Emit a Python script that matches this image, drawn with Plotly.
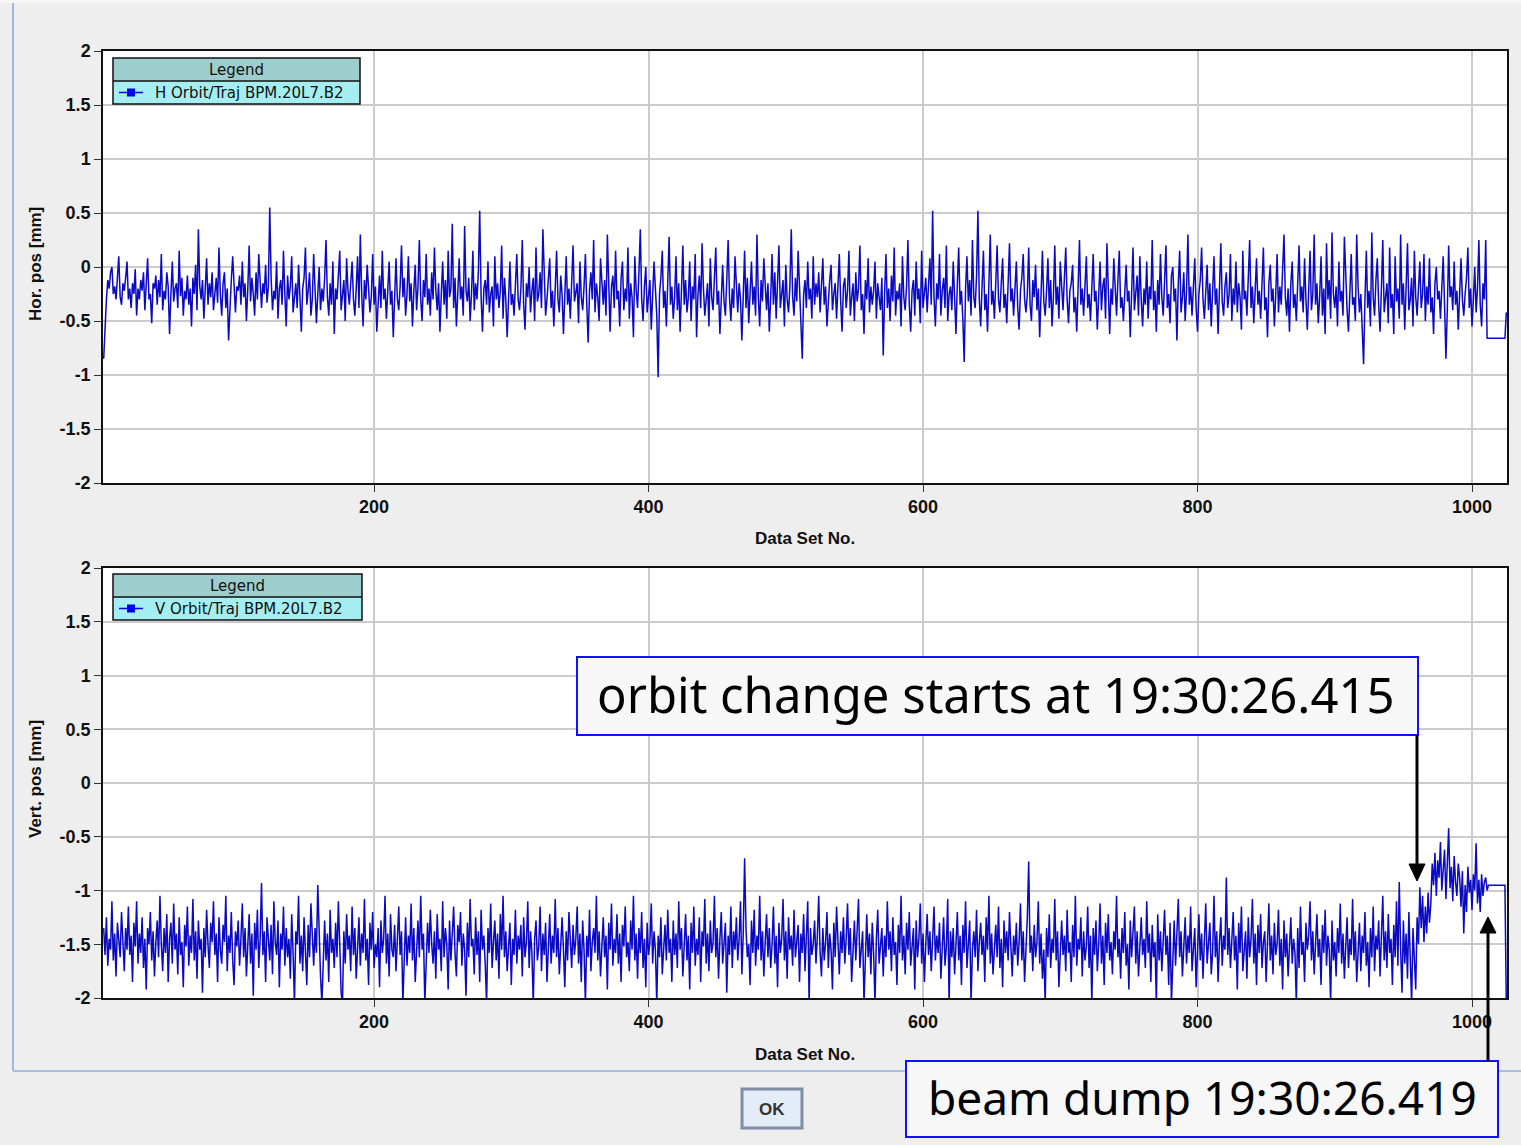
import plotly.graph_objects as go

W, H = 1521, 1145

# ---------------- data ----------------
h_pos = [
    -.85,-.55,-.30,-.12,-.20,-.05,.00,-.25,-.18,-.30,-.10,.10,-.28,-.35,-.15,-.22,-.10,.05,-.30,-.20,
    -.38,-.15,-.25,-.02,-.45,-.20,-.30,-.12,-.22,-.05,-.40,-.18,.08,-.30,-.25,-.52,-.15,-.20,-.08,-.35,
    -.12,-.28,.12,-.40,-.22,-.30,-.05,-.18,-.62,-.25,.05,-.32,-.20,-.15,-.38,.15,-.27,-.10,-.45,-.22,
    -.30,-.08,-.35,-.20,-.55,-.10,-.25,.02,-.40,.35,-.18,-.30,-.12,-.48,-.22,.08,-.35,-.15,-.28,-.05,
    -.40,-.20,-.10,-.33,.18,-.25,-.45,-.15,-.05,-.38,-.20,-.68,-.30,-.12,.10,-.25,-.42,-.18,-.22,-.08,
    -.35,.05,-.28,-.15,-.50,-.20,.20,-.32,-.10,-.25,-.45,-.05,-.30,.12,-.22,-.38,-.15,-.25,.02,-.33,
    -.18,.55,-.10,-.40,-.22,-.30,.05,-.48,-.20,-.12,-.35,.15,-.25,-.55,-.08,-.30,-.18,.10,-.42,-.25,
    -.15,-.38,.02,-.28,-.60,-.20,-.10,.18,-.35,-.22,-.05,-.45,-.30,.12,-.18,-.52,-.25,.00,-.40,-.20,
    -.32,-.10,.25,-.28,-.45,-.15,-.35,.05,-.62,-.20,-.30,-.08,.15,-.40,-.25,-.12,-.50,.08,-.22,-.35,
    -.15,.05,-.30,-.45,-.20,.10,-.38,.30,-.25,-.55,-.12,-.30,.02,-.20,-.42,-.28,.12,-.35,-.18,-.60,
    -.25,-.08,-.38,.15,-.30,-.20,-.48,-.12,.05,-.35,-.22,-.65,-.15,.08,-.30,-.40,-.18,.20,-.28,-.10,
    -.45,-.25,.10,-.32,-.15,-.55,-.22,.02,-.40,-.18,.25,-.30,-.50,-.12,-.28,.12,-.35,-.20,-.45,-.05,
    -.30,.18,-.22,-.40,-.15,-.60,-.25,.05,-.35,-.12,-.48,.15,-.28,-.20,.40,-.38,-.10,-.55,-.25,.08,
    -.30,-.18,-.45,.38,-.22,-.32,-.10,-.50,-.25,.15,-.40,-.15,-.30,-.05,.52,-.28,-.60,-.20,-.12,-.35,
    .05,-.42,-.25,-.18,-.55,.10,-.30,-.15,-.38,-.22,.20,-.48,-.10,-.30,-.65,-.18,.05,-.35,-.25,-.45,
    -.12,.12,-.30,-.40,-.20,.25,-.35,-.58,-.15,-.28,.00,-.42,-.22,-.10,-.50,.18,-.32,-.25,-.05,-.38,
    .35,-.20,-.45,-.30,-.12,.08,-.38,-.22,-.55,-.15,.15,-.30,-.42,-.08,-.25,-.62,-.18,.10,-.35,-.20,
    -.48,-.10,.20,-.32,-.25,-.15,-.52,.05,-.28,-.40,-.18,.12,-.35,-.70,-.22,-.05,-.30,.25,-.42,-.15,
    -.28,-.50,.08,-.20,-.35,-.12,-.45,.30,-.25,-.60,-.18,-.08,-.38,.15,-.30,-.22,-.55,-.10,.05,-.40,
    -.20,-.32,.18,-.48,-.15,-.28,-.65,.10,-.22,-.38,-.05,.35,-.30,-.50,-.18,.00,-.42,-.25,-.12,-.58,
    -.30,.05,-.20,-.45,-1.02,-.25,-.10,.15,-.38,-.22,-.55,-.05,.28,-.35,-.18,-.48,-.28,.10,-.40,-.15,
    -.60,-.22,.20,-.35,-.12,-.42,-.28,.05,-.50,-.18,-.30,.12,-.65,-.25,-.08,-.38,.22,-.20,-.45,-.30,
    -.15,-.55,.08,-.28,-.40,-.10,.18,-.35,-.22,-.62,-.18,.02,-.32,-.45,-.12,.25,-.28,-.50,-.20,-.38,
    .10,-.25,-.42,-.15,-.30,-.68,-.20,.15,-.38,-.10,-.52,-.25,.05,-.35,-.18,-.45,.30,-.28,-.55,-.12,
    -.32,.08,-.22,-.40,-.15,-.60,-.28,.12,-.35,-.05,-.48,-.20,.20,-.38,-.25,-.12,-.55,.02,-.30,-.42,
    -.18,.35,-.28,-.45,-.10,-.32,.15,-.22,-.50,-.85,-.25,-.12,-.38,.05,-.30,-.20,-.48,.10,-.35,-.15,
    -.28,-.05,-.42,-.22,.08,-.35,-.18,-.55,-.30,-.12,.02,-.40,-.25,-.15,-.48,-.20,.12,-.32,-.60,-.18,
    -.10,-.38,-.22,.15,-.45,-.28,-.15,-.50,-.05,-.32,-.20,.20,-.40,-.25,-.62,-.12,-.30,.08,-.42,-.18,
    -.35,-.22,.05,-.48,-.15,-.28,-.40,-.10,-.82,-.25,.12,-.38,-.20,-.50,-.08,-.32,.18,-.45,-.22,-.30,
    -.15,-.55,.10,-.28,-.40,-.18,.25,-.35,-.60,-.22,-.12,-.45,.05,-.30,-.20,-.52,.15,-.38,-.25,-.10,
    -.42,-.20,.08,-.35,.52,-.28,-.55,-.15,-.30,.12,-.45,-.22,-.10,-.38,.20,-.50,-.25,-.18,-.40,.05,
    -.30,-.62,-.15,.18,-.35,-.22,-.48,-.88,-.20,.10,-.32,-.12,-.45,.25,-.28,-.38,-.08,.52,-.30,-.55,
    -.18,.15,-.40,-.25,-.60,-.12,.30,-.35,-.22,-.48,-.05,.20,-.30,-.42,-.15,.08,-.38,-.25,-.52,-.10,
    .22,-.32,-.20,-.45,-.15,.05,-.38,-.58,-.22,-.10,.12,-.30,-.42,-.25,.18,-.35,-.50,-.12,-.28,.02,
    -.40,-.20,-.65,-.15,.15,-.32,-.45,-.22,.08,-.38,-.12,-.55,-.28,.20,-.35,-.18,-.48,.05,-.25,-.40,
    -.10,.18,-.30,-.52,-.22,-.15,.02,-.42,-.28,-.60,-.18,.25,-.35,-.20,-.45,-.08,.10,-.38,-.25,-.50,
    -.15,.12,-.32,-.22,-.58,-.28,.05,-.40,-.18,-.10,-.48,.22,-.30,-.62,-.20,-.35,.08,-.25,-.45,-.12,
    .15,-.38,-.28,-.50,-.15,.02,-.32,-.22,-.65,-.12,.18,-.40,-.25,-.08,-.45,.10,-.30,-.55,-.20,-.35,
    .05,-.48,-.18,-.30,.25,-.40,-.22,-.60,-.12,-.35,.12,-.28,-.45,-.15,.20,-.38,-.25,-.52,-.08,.00,
    -.32,-.20,-.68,-.15,.15,-.42,-.28,-.05,-.50,-.22,.30,-.35,-.18,-.45,-.10,.08,-.38,-.60,-.25,-.12,
    .18,-.30,-.48,-.22,.02,-.40,-.15,-.55,-.28,.10,-.35,-.20,-.62,-.12,.22,-.32,-.45,-.18,-.05,-.38,
    -.25,.12,-.50,-.20,-.35,.05,-.42,-.15,-.28,-.58,.15,-.30,-.22,-.45,-.10,.25,-.38,-.18,-.52,-.28,
    .08,-.35,-.22,-.48,-.12,.18,-.40,-.28,-.65,-.15,.02,-.32,-.20,-.55,-.25,.12,-.42,-.18,-.35,-.08,
    .30,-.28,-.45,-.20,-.60,-.15,.05,-.38,-.25,-.50,-.10,.20,-.32,-.18,-.42,.08,-.30,-.58,-.22,.15,
    -.40,-.25,.30,-.35,-.15,-.52,-.28,.10,-.45,-.20,-.62,.22,-.30,-.12,-.48,.32,-.25,-.38,-.18,-.55,
    .05,-.32,-.22,-.45,.28,-.15,-.40,-.60,-.20,.12,-.35,-.28,-.50,.30,-.18,-.42,-.25,-.65,-.90,-.30,
    .15,-.38,-.22,-.55,.32,-.28,-.45,-.12,.08,-.35,-.60,-.20,.25,-.42,-.30,-.15,-.52,.18,-.38,-.25,
    -.62,.10,-.32,-.20,-.48,.30,-.35,-.15,-.58,-.25,.22,-.40,-.30,-.10,-.55,.15,-.28,-.45,-.20,.05,
    -.38,-.25,.12,-.50,-.18,-.35,.08,-.42,-.28,-.62,-.15,.00,-.30,-.22,-.48,-.12,.10,-.35,-.85,-.40,
    .20,-.28,-.18,-.40,.05,-.35,-.22,-.58,-.15,.08,-.30,-.45,-.25,-.10,.18,-.38,-.20,-.55,-.30,.00,
    -.42,-.20,.25,-.35,-.55,-.15,-.30,.25,-.66,-.66,-.66,-.66,-.66,-.66,-.66,-.66,-.66,-.66,-.66,-.66,
    -.66,-.66,-.42,
]

v_pos = [
    -1.35,-1.60,-1.25,-1.70,-1.45,-1.55,-1.10,-1.65,-1.40,-1.80,-1.30,-1.50,-1.62,-1.20,-1.48,-1.75,-1.35,-1.55,-1.15,-1.60,
    -1.42,-1.85,-1.30,-1.52,-1.10,-1.68,-1.40,-1.58,-1.25,-1.72,-1.45,-1.92,-1.35,-1.50,-1.20,-1.65,-1.38,-1.80,-1.48,-1.28,
    -1.62,-1.05,-1.50,-1.75,-1.35,-1.58,-1.22,-1.85,-1.45,-1.30,-1.68,-1.12,-1.55,-1.40,-1.78,-1.25,-1.60,-1.48,-1.90,-1.32,
    -1.52,-1.15,-1.70,-1.42,-1.58,-1.08,-1.65,-1.38,-1.82,-1.28,-1.55,-1.45,-1.95,-1.35,-1.62,-1.18,-1.50,-1.72,-1.30,-1.48,
    -1.10,-1.60,-1.40,-1.85,-1.25,-1.55,-1.68,-1.32,-1.48,-1.05,-1.75,-1.42,-1.58,-1.20,-1.65,-1.88,-1.38,-1.52,-1.28,-1.70,
    -1.45,-1.12,-1.62,-1.35,-1.80,-1.50,-1.22,-1.68,-1.40,-1.98,-1.30,-1.55,-1.18,-1.72,-1.45,-0.93,-1.60,-1.38,-1.85,-1.25,
    -1.52,-1.65,-1.32,-1.78,-1.10,-1.48,-1.60,-1.28,-1.90,-1.40,-1.55,-1.15,-1.70,-1.35,-1.62,-1.45,-1.82,-1.22,-1.58,-2.05,
    -1.38,-1.50,-1.05,-1.68,-1.42,-1.75,-1.25,-1.55,-1.88,-1.32,-1.62,-1.12,-1.48,-1.70,-1.35,-1.58,-0.95,-1.45,-1.80,-2.05,
    -1.52,-1.28,-1.65,-1.40,-1.85,-1.18,-1.58,-1.45,-1.72,-1.30,-1.62,-1.10,-1.50,-1.95,-2.05,-1.38,-1.68,-1.22,-1.55,-1.42,
    -1.75,-1.15,-1.60,-1.35,-1.82,-1.48,-1.25,-1.70,-1.40,-1.58,-1.08,-1.65,-1.45,-1.88,-1.30,-1.55,-1.20,-1.72,-1.50,-1.62,
    -1.35,-1.90,-1.28,-1.58,-1.45,-1.05,-1.68,-1.40,-1.80,-1.22,-1.55,-1.62,-1.32,-1.75,-1.48,-1.15,-1.60,-1.38,-2.05,-1.52,
    -1.25,-1.70,-1.42,-1.58,-1.12,-1.65,-1.35,-1.85,-1.48,-1.28,-1.62,-1.05,-1.55,-1.40,-2.05,-1.72,-1.30,-1.58,-1.18,-1.50,
    -1.68,-1.38,-1.82,-1.22,-1.55,-1.45,-1.75,-1.10,-1.62,-1.35,-1.50,-1.92,-1.28,-1.65,-1.42,-1.15,-1.58,-1.80,-1.32,-1.48,
    -1.20,-1.70,-1.40,-1.55,-1.98,-1.30,-1.62,-1.08,-1.52,-1.45,-1.78,-1.25,-1.60,-1.38,-1.85,-1.18,-1.55,-1.42,-1.68,-2.05,
    -1.35,-1.58,-1.12,-1.72,-1.48,-1.28,-1.65,-1.40,-1.82,-1.22,-1.55,-1.05,-1.62,-1.38,-1.75,-1.50,-1.30,-1.88,-1.45,-1.60,
    -1.18,-1.68,-1.42,-1.55,-1.32,-1.80,-1.25,-1.62,-1.48,-1.10,-1.72,-1.38,-1.58,-2.05,-1.45,-1.28,-1.65,-1.52,-1.15,-1.75,
    -1.40,-1.60,-1.30,-1.85,-1.50,-1.22,-1.68,-1.42,-1.58,-1.08,-1.62,-1.35,-1.78,-1.48,-1.25,-1.55,-1.90,-1.38,-1.65,-1.20,
    -1.52,-1.72,-1.32,-1.60,-1.45,-1.15,-1.68,-1.40,-1.85,-1.28,-1.55,-2.05,-1.42,-1.62,-1.18,-1.75,-1.48,-1.35,-1.58,-1.05,
    -1.65,-1.38,-1.80,-1.50,-1.25,-1.62,-1.42,-1.92,-1.30,-1.55,-1.12,-1.70,-1.45,-1.58,-1.22,-1.68,-1.40,-1.85,-1.32,-1.52,
    -1.15,-1.62,-1.48,-1.75,-1.28,-1.55,-1.05,-1.65,-1.40,-1.82,-1.35,-1.58,-1.20,-1.72,-1.45,-1.90,-1.30,-1.60,-1.48,-1.12,
    -1.68,-1.38,-1.55,-2.05,-1.42,-1.62,-1.25,-1.78,-1.50,-1.32,-1.65,-1.18,-1.58,-1.45,-1.85,-1.28,-1.60,-1.40,-1.72,-1.10,
    -1.55,-1.35,-1.80,-1.48,-1.22,-1.65,-1.42,-1.92,-1.30,-1.58,-1.15,-1.70,-1.45,-1.60,-1.25,-1.85,-1.38,-1.52,-1.08,-1.68,
    -1.40,-1.75,-1.28,-1.58,-1.48,-1.05,-1.62,-1.35,-1.82,-1.45,-1.20,-1.68,-1.52,-1.30,-1.95,-1.42,-1.60,-1.15,-1.72,-1.38,
    -1.55,-1.25,-1.65,-1.45,-1.10,-1.78,-1.40,-0.70,-1.35,-1.62,-1.50,-1.88,-1.28,-1.58,-1.18,-1.70,-1.42,-1.55,-1.05,-1.65,
    -1.38,-1.80,-1.48,-1.22,-1.62,-1.35,-1.72,-1.50,-1.15,-1.68,-1.42,-1.90,-1.30,-1.58,-1.45,-1.08,-1.65,-1.38,-1.82,-1.25,
    -1.55,-1.42,-1.70,-1.18,-1.62,-1.48,-1.32,-1.85,-1.40,-1.58,-1.22,-1.75,-1.45,-1.10,-2.05,-1.35,-1.60,-1.50,-1.28,-1.68,
    -1.42,-1.05,-1.58,-1.80,-1.35,-1.65,-1.48,-1.20,-1.72,-1.40,-1.55,-1.92,-1.30,-1.62,-1.15,-1.50,-1.78,-1.38,-1.58,-1.25,
    -1.68,-1.45,-1.12,-1.60,-1.35,-1.85,-1.50,-1.28,-1.65,-1.42,-1.08,-1.72,-1.55,-1.38,-2.05,-1.48,-1.22,-1.62,-1.40,-1.78,
    -1.30,-1.58,-2.05,-1.45,-1.18,-1.68,-1.52,-1.35,-1.80,-1.42,-1.62,-1.10,-1.55,-1.38,-1.75,-1.25,-1.60,-1.48,-1.88,-1.32,
    -1.58,-1.05,-1.65,-1.42,-1.78,-1.30,-1.55,-1.20,-1.70,-1.48,-1.35,-1.92,-1.28,-1.62,-1.45,-1.12,-1.68,-1.40,-1.85,-1.50,
    -1.22,-1.60,-1.38,-1.75,-1.48,-1.15,-1.65,-1.42,-1.58,-1.30,-1.82,-1.45,-1.25,-1.70,-1.52,-1.08,-2.05,-1.38,-1.62,-1.35,
    -1.78,-1.50,-1.20,-1.65,-1.42,-1.88,-1.32,-1.58,-1.10,-1.72,-1.45,-1.28,-2.05,-1.55,-1.38,-1.62,-1.18,-1.75,-1.48,-1.30,
    -1.60,-1.42,-1.85,-1.25,-1.55,-1.05,-1.68,-1.40,-1.78,-1.50,-1.32,-1.62,-1.15,-1.72,-1.45,-1.90,-1.28,-1.58,-1.38,-1.65,
    -1.20,-1.52,-1.80,-1.42,-1.60,-1.30,-1.70,-1.48,-1.12,-1.65,-1.38,-1.85,-1.55,-1.25,-0.73,-1.58,-1.42,-1.75,-1.32,-1.62,
    -1.48,-1.10,-1.68,-1.40,-1.82,-1.55,-2.05,-1.35,-1.62,-1.22,-1.72,-1.45,-1.58,-1.08,-1.65,-1.38,-1.90,-1.50,-1.28,-1.60,
    -1.42,-1.75,-1.18,-1.58,-1.48,-1.85,-1.32,-1.62,-1.05,-1.70,-1.45,-1.55,-1.25,-1.80,-1.38,-1.65,-1.52,-1.15,-1.72,-1.42,
    -2.05,-1.35,-1.60,-1.28,-1.75,-1.50,-1.12,-1.68,-1.42,-1.88,-1.30,-1.58,-1.22,-1.65,-1.48,-1.78,-1.38,-1.55,-1.05,-1.62,
    -1.45,-1.82,-1.35,-1.58,-1.20,-1.70,-1.50,-1.92,-1.28,-1.62,-1.42,-1.15,-1.68,-1.38,-1.80,-1.52,-1.25,-1.60,-1.45,-1.72,
    -1.10,-1.58,-1.40,-1.85,-1.32,-1.62,-1.48,-2.05,-1.22,-1.65,-1.38,-1.75,-1.52,-1.18,-1.60,-1.42,-1.88,-1.30,-2.05,-1.55,
    -1.28,-1.70,-1.45,-1.08,-1.62,-1.38,-1.80,-1.50,-1.25,-1.68,-1.42,-1.58,-1.15,-1.75,-1.48,-1.35,-1.90,-1.55,-1.22,-1.65,
    -1.40,-1.82,-1.52,-1.12,-1.68,-1.45,-1.30,-1.78,-1.58,-1.05,-1.62,-1.38,-1.85,-1.48,-1.25,-1.70,-1.42,-1.55,-0.88,-1.60,
    -1.35,-1.72,-1.48,-1.20,-1.65,-1.42,-1.92,-1.30,-1.58,-1.15,-1.75,-1.50,-1.38,-1.82,-1.25,-1.62,-1.45,-1.08,-1.68,-1.40,
    -1.88,-1.32,-1.58,-1.22,-1.72,-1.48,-1.38,-1.85,-1.55,-1.12,-1.65,-1.42,-1.78,-1.30,-1.60,-1.50,-1.18,-1.70,-1.45,-1.92,
    -1.28,-1.62,-1.40,-1.80,-1.52,-1.25,-1.68,-1.45,-1.58,-2.05,-1.35,-1.72,-1.15,-1.60,-1.48,-1.85,-1.30,-1.55,-1.42,-1.10,
    -1.65,-1.38,-1.78,-1.50,-1.22,-1.62,-1.45,-1.88,-1.32,-1.58,-1.18,-1.70,-1.42,-1.55,-2.05,-1.28,-1.65,-1.48,-1.80,-1.35,
    -1.58,-1.12,-1.68,-1.40,-1.82,-1.52,-1.25,-1.72,-1.45,-1.60,-1.08,-1.65,-1.38,-1.85,-1.50,-1.30,-1.75,-1.42,-1.58,-1.20,
    -1.70,-1.48,-1.90,-1.35,-1.62,-1.15,-1.75,-1.42,-1.55,-1.28,-1.80,-1.50,-1.05,-1.65,-1.38,-1.72,-1.22,-1.58,-1.45,-1.88,
    -1.32,-1.62,-1.10,-1.70,-0.92,-1.55,-1.95,-1.28,-1.68,-1.40,-1.82,-1.20,-1.58,-2.05,-1.35,-1.62,-1.92,-1.25,-1.50,-0.97,
    -1.35,-1.05,-1.48,-1.15,-1.40,-1.02,-1.30,-1.12,-0.75,-0.95,-0.65,-1.05,-0.72,-0.88,-0.55,-1.00,-0.80,-0.62,-1.08,-0.70,
    -0.42,-0.98,-0.78,-1.10,-0.68,-0.92,-1.05,-0.75,-0.88,-1.15,-0.82,-1.40,-0.95,-1.20,-0.78,-1.02,-0.90,-1.18,-0.85,-1.00,
    -0.56,-1.12,-0.90,-1.20,-0.85,-1.05,-0.92,-0.88,-1.00,-0.95,-0.95,-0.95,-0.95,-0.95,-0.95,-0.95,-0.95,-0.95,-0.95,-0.95,
    -0.95,-0.95,-2.05,
]

first_data_set = 3
h_data_set_no = list(range(first_data_set, first_data_set + len(h_pos)))
v_data_set_no = list(range(first_data_set, first_data_set + len(v_pos)))

x_tick_vals = [200, 400, 600, 800, 1000]
x_tick_text = ["200", "400", "600", "800", "1000"]
y_tick_vals = [2, 1.5, 1, 0.5, 0, -0.5, -1, -1.5, -2]
y_tick_text = ["2", "1.5", "1", "0.5", "0", "-0.5", "-1", "-1.5", "-2"]

h_series_name = "H Orbit/Traj BPM.20L7.B2"
v_series_name = "V Orbit/Traj BPM.20L7.B2"
note_orbit = "orbit change starts at 19:30:26.415"
note_dump = "beam dump 19:30:26.419"

# ---------------- helpers ----------------
def px(x):
    return x / W

def py(y):
    return 1 - y / H

LINE_COLOR = "#0a0ac4"
GRID = "#cbcbcb"
TICK_FONT = dict(family="Liberation Sans, Arial, sans-serif", size=18, color="#111111", weight="bold")

fig = go.Figure()
fig.add_trace(go.Scatter(x=h_data_set_no, y=h_pos, mode="lines",
                         line=dict(color=LINE_COLOR, width=1.5), xaxis="x", yaxis="y",
                         showlegend=False, hoverinfo="skip"))
fig.add_trace(go.Scatter(x=v_data_set_no, y=v_pos, mode="lines",
                         line=dict(color=LINE_COLOR, width=1.5), xaxis="x2", yaxis="y2",
                         showlegend=False, hoverinfo="skip"))

def xax(anchor):
    return dict(domain=[px(103), px(1507)], range=[2.5, 1025.5], anchor=anchor,
                tickvals=x_tick_vals, ticktext=x_tick_text, tickfont=TICK_FONT,
                ticks="outside", ticklen=7, tickcolor="#333333", tickwidth=1,
                showgrid=True, gridcolor=GRID, gridwidth=1.5, zeroline=False,
                showline=True, linecolor="#111111", linewidth=1.5, mirror=True,
                ticklabelstandoff=0)

def yax(anchor, top, bottom):
    return dict(domain=[py(bottom), py(top)], range=[-2, 2], anchor=anchor,
                tickvals=y_tick_vals, ticktext=y_tick_text, tickfont=TICK_FONT,
                ticks="outside", ticklen=7, tickcolor="#333333", tickwidth=1,
                showgrid=True, gridcolor=GRID, gridwidth=1.5, zeroline=False,
                showline=True, linecolor="#111111", linewidth=1.5, mirror=True)

shapes = []
annotations = []

# window chrome
shapes.append(dict(type="rect", xref="paper", yref="paper", x0=0, x1=1, y0=py(3), y1=1,
                   fillcolor="#f6f6f6", line=dict(width=0), layer="below"))
shapes.append(dict(type="line", xref="paper", yref="paper", x0=px(13), x1=px(13), y0=py(3), y1=py(1071),
                   line=dict(color="#a3b8de", width=2), layer="below"))
shapes.append(dict(type="line", xref="paper", yref="paper", x0=px(13), x1=1, y0=py(1071), y1=py(1071),
                   line=dict(color="#a9bde0", width=2), layer="below"))

# legends
LEG_FONT = dict(family="DejaVu Sans, sans-serif", size=15, color="#111111")

def legend_box(x0, x1, top, text):
    mid = top + 23
    bot = top + 46
    shapes.append(dict(type="rect", xref="paper", yref="paper", x0=px(x0), x1=px(x1), y0=py(mid), y1=py(top),
                       fillcolor="#9ecdcd", line=dict(width=0)))
    shapes.append(dict(type="rect", xref="paper", yref="paper", x0=px(x0), x1=px(x1), y0=py(bot), y1=py(mid),
                       fillcolor="#a4eef2", line=dict(width=0)))
    shapes.append(dict(type="rect", xref="paper", yref="paper", x0=px(x0), x1=px(x1), y0=py(bot), y1=py(top),
                       fillcolor="rgba(0,0,0,0)", line=dict(color="#111111", width=1.5)))
    shapes.append(dict(type="line", xref="paper", yref="paper", x0=px(x0), x1=px(x1), y0=py(mid), y1=py(mid),
                       line=dict(color="#111111", width=1.5)))
    ey = mid + 11.5
    shapes.append(dict(type="line", xref="paper", yref="paper", x0=px(x0 + 6), x1=px(x0 + 30), y0=py(ey), y1=py(ey),
                       line=dict(color="#0000ee", width=1.5)))
    shapes.append(dict(type="rect", xref="paper", yref="paper", x0=px(x0 + 14), x1=px(x0 + 22),
                       y0=py(ey + 4), y1=py(ey - 4), fillcolor="#0000ee", line=dict(width=0)))
    annotations.append(dict(xref="paper", yref="paper", x=px((x0 + x1) / 2), y=py(top + 11.5), text="Legend",
                            showarrow=False, xanchor="center", yanchor="middle", font=LEG_FONT))
    annotations.append(dict(xref="paper", yref="paper", x=px(x0 + 40), y=py(ey), text=text,
                            showarrow=False, xanchor="left", yanchor="middle", font=LEG_FONT))

legend_box(113, 360, 58, h_series_name)
legend_box(113, 362, 574, v_series_name)

# axis titles
TITLE_FONT = dict(family="Liberation Sans, Arial, sans-serif", size=17, color="#111111", weight="bold")
annotations.append(dict(xref="paper", yref="paper", x=px(805), y=py(539), text="Data Set No.",
                        showarrow=False, xanchor="center", yanchor="middle", font=TITLE_FONT))
annotations.append(dict(xref="paper", yref="paper", x=px(805), y=py(1054), text="Data Set No.",
                        showarrow=False, xanchor="center", yanchor="middle", font=TITLE_FONT))
annotations.append(dict(xref="paper", yref="paper", x=px(35), y=py(264), text="Hor. pos [mm]",
                        showarrow=False, textangle=-90, xanchor="center", yanchor="middle", font=TITLE_FONT))
annotations.append(dict(xref="paper", yref="paper", x=px(35), y=py(779), text="Vert. pos [mm]",
                        showarrow=False, textangle=-90, xanchor="center", yanchor="middle", font=TITLE_FONT))

# note boxes
shapes.append(dict(type="rect", xref="paper", yref="paper", x0=px(577), x1=px(1418), y0=py(735), y1=py(657),
                   fillcolor="#f7f7f7", line=dict(color="#1010ff", width=2)))
annotations.append(dict(xref="paper", yref="paper", x=px(996), y=py(694), text=note_orbit,
                        showarrow=False, xanchor="center", yanchor="middle",
                        font=dict(family="Noto Sans, sans-serif", size=49, color="#000000")))
shapes.append(dict(type="rect", xref="paper", yref="paper", x0=px(906), x1=px(1498), y0=py(1137), y1=py(1061),
                   fillcolor="#f7f7f7", line=dict(color="#1010ff", width=2)))
annotations.append(dict(xref="paper", yref="paper", x=px(1202), y=py(1097), text=note_dump,
                        showarrow=False, xanchor="center", yanchor="middle",
                        font=dict(family="Noto Sans, sans-serif", size=46, color="#000000")))

# arrows
shapes.append(dict(type="line", xref="paper", yref="paper", x0=px(1417), x1=px(1417), y0=py(735), y1=py(866),
                   line=dict(color="#000000", width=3)))
shapes.append(dict(type="path", xref="paper", yref="paper",
                   path=f"M {px(1409)},{py(864)} L {px(1425)},{py(864)} L {px(1417)},{py(881)} Z",
                   fillcolor="#000000", line=dict(color="#000000", width=1)))
shapes.append(dict(type="line", xref="paper", yref="paper", x0=px(1488), x1=px(1488), y0=py(1061), y1=py(930),
                   line=dict(color="#000000", width=3)))
shapes.append(dict(type="path", xref="paper", yref="paper",
                   path=f"M {px(1480)},{py(933)} L {px(1496)},{py(933)} L {px(1488)},{py(917)} Z",
                   fillcolor="#000000", line=dict(color="#000000", width=1)))

# OK button
shapes.append(dict(type="rect", xref="paper", yref="paper", x0=px(742), x1=px(802), y0=py(1128), y1=py(1089),
                   fillcolor="#e3ebf6", line=dict(color="#7f8ea6", width=3)))
annotations.append(dict(xref="paper", yref="paper", x=px(772), y=py(1109), text="OK",
                        showarrow=False, xanchor="center", yanchor="middle",
                        font=dict(family="Liberation Sans, Arial, sans-serif", size=17, color="#333333",
                                  weight="bold")))

fig.update_layout(
    width=W, height=H, autosize=False,
    margin=dict(l=0, r=0, t=0, b=0, pad=0, autoexpand=False),
    paper_bgcolor="#eeeeee", plot_bgcolor="#ffffff",
    xaxis=xax("y"), yaxis=yax("x", 51, 483),
    xaxis2=xax("y2"), yaxis2=yax("x2", 568, 998),
    shapes=shapes, annotations=annotations,
    showlegend=False,
)

fig.write_html("out.html", config={"displayModeBar": False})
